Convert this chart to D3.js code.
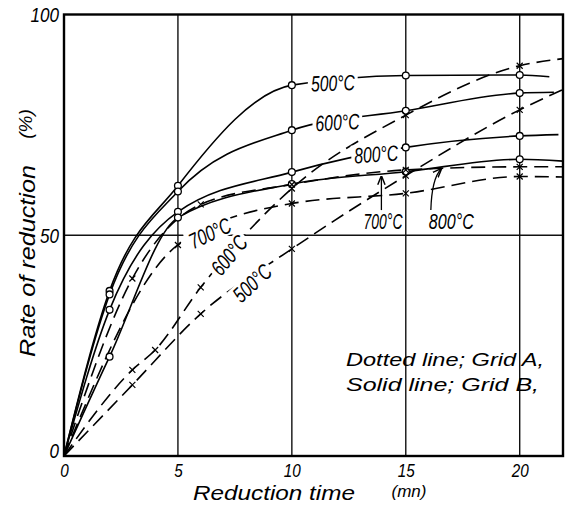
<!DOCTYPE html>
<html><head><meta charset="utf-8">
<script src="https://cdn.jsdelivr.net/npm/d3@7"></script>
<style>body{margin:0;background:#fff}</style>
</head><body><svg id="c" width="565" height="506"></svg>
<script>
// ---- data ----
const xTicks = [0, 5, 10, 15, 20];
const yTicks = [0, 50, 100];
const xGrid = [5, 10, 15, 20];
const yGrid = [50];

// Solid line; Grid B (circles)
const s500T = [0, 2, 5, 10, 15, 20, 21.3], s500V = [0, 37.4, 61.2, 84.0, 86.2, 86.3, 85.9];
const s600T = [0, 2, 5, 10, 15, 20, 21.5], s600V = [0, 36.6, 59.9, 73.8, 78.2, 82.2, 82.4];
const s800T = [0, 2, 5, 10, 15, 20, 21.7], s800V = [0, 33.1, 55.3, 64.3, 69.9, 72.5, 72.8];
const s700T = [0, 2, 5, 10, 15, 20, 21.9], s700V = [0, 22.5, 54.0, 61.6, 64.4, 67.2, 66.8];

// Dotted line; Grid A (crosses)
const d500T = [0, 3, 6, 10, 15, 20, 21.9], d500V = [0, 16.1, 32.2, 46.9, 63.5, 78.4, 83.0];
const d600T = [0, 3, 4, 6, 10, 15, 20, 21.9], d600V = [0, 19.5, 24.0, 38.2, 60.6, 77.2, 88.4, 90.0];
const d700T = [0, 5, 10, 15, 20, 21.9], d700V = [0, 47.8, 57.2, 59.5, 63.3, 63.2];
const d800T = [0, 3, 6, 10, 15, 20, 21.9], d800V = [0, 40.2, 57.0, 61.5, 64.8, 65.5, 65.5];

// labels on curves: text, t, value, rotation
const lblText = ["500°C", "600°C", "800°C", "700°C", "600°C", "500°C"];
const lblT    = [11.8, 12.0, 13.7, 6.4, 7.24, 8.25];
const lblV    = [84.5, 75.6, 68.4, 50.5, 45.5, 39.2];
const lblRot  = [-2, -3, -4, -25, -50, -43];

const arrowText = ["700°C", "800°C"];
const arrowLblT = [14.0, 17.0], arrowLblV = [53.2, 53.2];

const legendLines = ["Dotted line; Grid A,", "Solid line; Grid B,"];

// ---- drawing ----
const F = "'Liberation Sans', 'DejaVu Sans', sans-serif";
const svg = d3.select("#c");
const x = d3.scaleLinear().domain([0, 21.9]).range([64, 563]);
const y = d3.scaleLinear().domain([0, 100]).range([456, 14.5]);

svg.append("rect").attr("width", 565).attr("height", 506).attr("fill", "#fff");

// grid
svg.append("g").selectAll("line").data(xGrid).join("line")
  .attr("x1", d => x(d)).attr("x2", d => x(d)).attr("y1", y(0)).attr("y2", y(100))
  .attr("stroke", "#111").attr("stroke-width", 1.4);
svg.append("g").selectAll("line").data(yGrid).join("line")
  .attr("x1", x(0)).attr("x2", x(21.9)).attr("y1", d => y(d)).attr("y2", d => y(d))
  .attr("stroke", "#111").attr("stroke-width", 1.4);

// frame
svg.append("rect").attr("x", x(0)).attr("y", y(100))
  .attr("width", x(21.9) - x(0)).attr("height", y(0) - y(100))
  .attr("fill", "none").attr("stroke", "#000").attr("stroke-width", 2.4);

// axes
const xa = svg.append("g").attr("transform", `translate(0,${y(0)})`)
  .call(d3.axisBottom(x).tickValues(xTicks).tickSize(0).tickPadding(8).tickFormat(d3.format("d")));
xa.select(".domain").remove();
xa.selectAll("text").attr("font-size", 19).attr("font-style", "italic").attr("font-family", F).attr("fill", "#000")
  .attr("textLength", d => String(d).length * 8.5).attr("lengthAdjust", "spacingAndGlyphs");

const ya = svg.append("g").attr("transform", `translate(${x(0)},0)`)
  .call(d3.axisLeft(y).tickValues(yTicks).tickSize(0).tickPadding(5).tickFormat(d3.format("d")));
ya.select(".domain").remove();
ya.selectAll("text").attr("font-size", 21).attr("font-style", "italic").attr("font-family", F).attr("fill", "#000")
  .attr("dy", d => d === 0 ? "0.05em" : "0.34em")
  .attr("textLength", d => String(d).length * 9.5).attr("lengthAdjust", "spacingAndGlyphs");

// curves
const line = d3.line().x(d => x(d[0])).y(d => y(d[1])).curve(d3.curveMonotoneX);
const series = [
  {t: s500T, v: s500V, dash: false}, {t: s600T, v: s600V, dash: false},
  {t: s800T, v: s800V, dash: false}, {t: s700T, v: s700V, dash: false},
  {t: d500T, v: d500V, dash: true}, {t: d600T, v: d600V, dash: true},
  {t: d700T, v: d700V, dash: true}, {t: d800T, v: d800V, dash: true}
];
const gLines = svg.append("g");
series.forEach(s => {
  const pts = s.t.map((t, i) => [t, s.v[i]]);
  gLines.append("path").attr("d", line(pts)).attr("fill", "none")
    .attr("stroke", "#000").attr("stroke-width", 1.6)
    .attr("stroke-dasharray", s.dash ? "14,7" : null);
});

// labels on curves (with white gap)
const gLbl = svg.append("g");
lblText.forEach((txt, i) => {
  const g = gLbl.append("g").attr("transform", `translate(${x(lblT[i])},${y(lblV[i])}) rotate(${lblRot[i]})`);
  g.append("rect").attr("x", -25).attr("y", -10).attr("width", 50).attr("height", 20).attr("fill", "#fff");
  g.append("text").text(txt).attr("text-anchor", "middle").attr("dy", "0.36em")
    .attr("font-size", 22).attr("font-style", "italic").attr("font-family", F)
    .attr("textLength", 44).attr("lengthAdjust", "spacingAndGlyphs");
});

// markers
const gM = svg.append("g");
series.forEach(s => {
  const pts = s.t.map((t, i) => [t, s.v[i]]).slice(1, -1);
  if (s.dash) {
    gM.selectAll(null).data(pts).join("path")
      .attr("d", d => `M${x(d[0]) - 3},${y(d[1]) - 3}L${x(d[0]) + 3},${y(d[1]) + 3}M${x(d[0]) + 3},${y(d[1]) - 3}L${x(d[0]) - 3},${y(d[1]) + 3}`)
      .attr("stroke", "#000").attr("stroke-width", 1.2);
  } else {
    gM.selectAll(null).data(pts).join("circle")
      .attr("cx", d => x(d[0])).attr("cy", d => y(d[1])).attr("r", 3.4)
      .attr("fill", "#fff").attr("stroke", "#000").attr("stroke-width", 1.3);
  }
});

// arrow labels
svg.append("defs").append("marker").attr("id", "ah").attr("viewBox", "0 0 10 10")
  .attr("refX", 9).attr("refY", 5).attr("markerWidth", 7).attr("markerHeight", 7)
  .attr("orient", "auto").append("path").attr("d", "M0,1 L10,5 L0,9").attr("fill", "none")
  .attr("stroke", "#000").attr("stroke-width", 1.6);
svg.append("path")
  .attr("d", `M${x(13.93)},${y(55.7)} L${x(13.93)},${y(63.3)}`)
  .attr("stroke", "#000").attr("stroke-width", 1.3).attr("fill", "none").attr("marker-end", "url(#ah)");
svg.append("path")
  .attr("d", `M${x(16.1)},${y(55.7)} Q${x(16.14)},${y(62.8)} ${x(16.55)},${y(65.0)}`)
  .attr("stroke", "#000").attr("stroke-width", 1.3).attr("fill", "none").attr("marker-end", "url(#ah)");
arrowText.forEach((txt, i) => {
  svg.append("text").text(txt).attr("x", x(arrowLblT[i])).attr("y", y(arrowLblV[i]))
    .attr("text-anchor", "middle").attr("dy", "0.36em")
    .attr("font-size", 22).attr("font-style", "italic").attr("font-family", F)
    .attr("textLength", i === 0 ? 39 : 45).attr("lengthAdjust", "spacingAndGlyphs");
});

// legend text
legendLines.forEach((txt, i) => {
  svg.append("text").text(txt).attr("x", 346).attr("y", 366 + i * 25)
    .attr("font-size", 19).attr("font-style", "italic").attr("font-family", F)
    .attr("textLength", i === 0 ? 198 : 193).attr("lengthAdjust", "spacingAndGlyphs");
});

// axis titles
svg.append("text").text("Reduction  time").attr("x", 274).attr("y", 500).attr("text-anchor", "middle")
  .attr("font-size", 21).attr("font-style", "italic").attr("font-family", F)
  .attr("textLength", 162).attr("lengthAdjust", "spacingAndGlyphs");
svg.append("text").text("(mn)").attr("x", 409).attr("y", 497).attr("text-anchor", "middle")
  .attr("font-size", 17).attr("font-style", "italic").attr("font-family", F);
svg.append("text").text("Rate of reduction").attr("transform", "translate(35,261) rotate(-90)")
  .attr("text-anchor", "middle").attr("font-size", 22).attr("font-style", "italic").attr("font-family", F)
  .attr("textLength", 192).attr("lengthAdjust", "spacingAndGlyphs");
svg.append("text").text("(%)").attr("transform", "translate(32,124) rotate(-90)")
  .attr("text-anchor", "middle").attr("font-size", 19).attr("font-style", "italic").attr("font-family", F);
</script></body></html>
